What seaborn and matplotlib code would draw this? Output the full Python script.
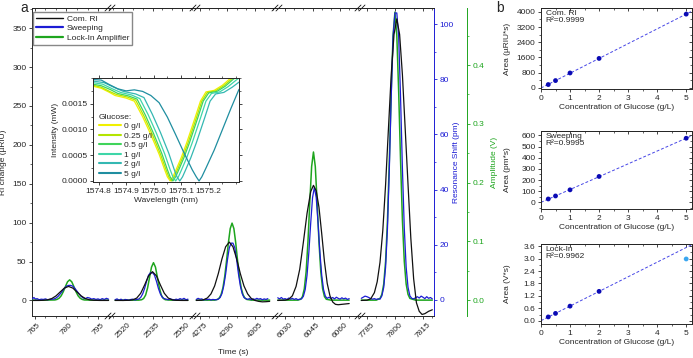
import numpy as np
import pandas as pd
import seaborn as sns
import matplotlib.pyplot as plt
from matplotlib.lines import Line2D
from matplotlib.ticker import MultipleLocator, FormatStrFormatter

# ---------------- data: panel a (time traces) ----------------
series_names = ['Com. RI', 'Sweeping', 'Lock-In Amplifier']

seg_ticks = [[765, 780, 795], [2520, 2535, 2550], [4275, 4290, 4305],
             [6030, 6045, 6060], [7785, 7800, 7815]]
seg_lims = [(763.6, 800.7), (2513.4, 2556.6), (4272.3, 4317.0),
            (6025.6, 6070.9), (7781.3, 7820.9)]

# commercial RI detector (uRIU)
ri_time = [764, 767, 769, 771, 773, 775, 777, 779, 781, 783, 785, 787, 789, 791, 793, 796, 800,
           2516, 2520, 2523, 2525, 2527, 2529, 2531, 2533, 2535, 2537, 2539, 2541, 2543, 2545, 2547, 2550, 2553,
           4273, 4276, 4277, 4279, 4281, 4283, 4285, 4287, 4289, 4291, 4293, 4295, 4297, 4299, 4301, 4303,
           4305, 4307, 4309, 4311, 4313,
           6026, 6030, 6032, 6034, 6036, 6038, 6040, 6042, 6044, 6045.5, 6047, 6048.5, 6050, 6051.5, 6053,
           6054.5, 6056, 6057.5, 6059, 6061, 6063, 6065,
           7782, 7785, 7787, 7789, 7790.5, 7792, 7793.5, 7795, 7796.5, 7798, 7799.5, 7801, 7802.5, 7804,
           7805.5, 7807, 7808.5, 7810, 7811.5, 7813, 7814.5, 7816, 7818, 7820]
ri_value = [0, 0, 0.2, 0.8, 2.4, 5.8, 10.9, 15.9, 18, 15.9, 10.9, 5.8, 2.4, 0.8, 0.2, 0, 0,
            0, 0, 0.15, 0.8, 3.1, 9.2, 19.9, 31.6, 37, 31.6, 19.9, 9.2, 3.1, 0.8, 0.15, 0, 0,
            0, 0.3, 1.0, 3.1, 8.4, 18.6, 34.5, 53.5, 69, 75, 69, 53.5, 34.5, 18.6, 8.4, 2.5,
            0, -1.2, -1.8, -1.6, -1.2,
            0, 0.3, 1.5, 6, 18, 40, 75, 112, 140, 148, 141, 120, 86, 50, 22,
            6, -2, -5, -5.5, -5, -4.5, -4,
            0, 0.3, 2, 10, 24, 49, 90, 149, 220, 290, 342, 362, 342, 290,
            220, 149, 80, 28, -3, -14, -18, -17, -14, -12]

# wavelength sweeping (pm)
sweep_time = [763.8, 764.5, 765.3, 766, 767, 768, 769, 770, 771, 772, 773, 774, 775, 776, 777, 778, 779,
              780, 781, 782, 783, 784, 785, 786, 787, 788, 789, 790, 791, 792, 793, 794, 795, 796, 797,
              798, 799, 800,
              2516, 2517, 2518, 2519, 2520, 2521, 2522, 2523, 2524, 2525, 2526, 2527, 2528, 2529, 2530,
              2531, 2532, 2533, 2534, 2535, 2536, 2537, 2538, 2539, 2540, 2541, 2542, 2543, 2544, 2545,
              2546, 2547, 2548, 2549, 2550, 2551, 2552, 2553,
              4273, 4274, 4275, 4276, 4277, 4278, 4279, 4280, 4281, 4282, 4283, 4284, 4285, 4286, 4287,
              4288, 4289, 4290, 4291, 4292, 4293, 4294, 4295, 4296, 4297, 4298, 4299, 4300, 4301, 4302,
              4303, 4304, 4305, 4306, 4307, 4308, 4309, 4310, 4311, 4312,
              6026, 6027, 6028, 6029, 6030, 6031, 6032, 6033, 6034, 6035, 6036, 6037, 6038, 6039, 6040,
              6041, 6042, 6043, 6044, 6045, 6046, 6047, 6048, 6049, 6050, 6051, 6052, 6053, 6054, 6055,
              6056, 6057, 6058, 6059, 6060, 6061, 6062, 6063, 6064, 6065,
              7782, 7783, 7784, 7785, 7786, 7787, 7788, 7789, 7790, 7791, 7792, 7793, 7794, 7795, 7796,
              7797, 7798, 7799, 7800, 7801, 7802, 7803, 7804, 7805, 7806, 7807, 7808, 7809, 7810, 7811,
              7812, 7813, 7814, 7815, 7816, 7817, 7818, 7819, 7820]
sweep_value = [0.4, 0.9, 0.3, 0.5, 0.1, 0.3, 0.2, 0.4, 0.1, 0.2, 0.3, 0.35, 0.7, 1.3, 2.2, 3.2, 4.25,
               5.0, 5.3, 5.3, 5.0, 4.2, 3.2, 2.2, 1.3, 0.7, 0.5, 0.9, 0.7, 0.3, 0.5, 0.2, 0.4, 0.1, 0.5,
               0.2, 0.6, 0.3,
               0.1, 0.4, -0.1, 0.3, -0.2, 0.2, 0.1, -0.1, 0.2, 0.3, 0.0, 0.2, 0.33, 0.93, 2.2,
               4.2, 6.8, 9.0, 9.9, 9.9, 9.0, 6.8, 4.2, 2.2, 0.93, 0.5, 0.3, 0.1, 0.4, 0.2,
               0.0, 0.3, 0.1, 0.5, 0.2, 0.6, 0.1, 0.3,
               0.2, 0.6, 0.3, 0.4, 0.0, 0.2, 0.1, 0.3, 0.0, 0.2, 0.1, 0.1, 0.3, 0.9, 2.35,
               5.2, 9.4, 14.6, 18.9, 20.6, 20.6, 18.9, 14.6, 9.4, 5.2, 2.35, 0.9, 0.5, 0.2, 0.5,
               0.1, 0.4, 0.2, 0.6, 0.3, 0.5, 0.1, 0.4, 0.2, 0.5,
               0.8, 0.4, 0.9, 0.3, 0.5, 0.2, 0.7, 0.3, 0.6, 0.2, 0.5, 0.1, 0.3, 0.4, 1.35,
               3.8, 9.0, 17.4, 27.9, 37.1, 40.8, 37.1, 27.9, 17.4, 9.0, 3.8, 1.35, 0.6, 1.0, 0.5,
               0.9, 0.4, 1.0, 0.6, 0.3, 0.8, 0.4, 0.7, 0.2, 0.5,
               0.6, 1.0, 1.4, 1.2, 0.9, 0.5, 0.3, 0.5, 0.2, 0.4, 0.3, 1.5, 4.6, 11.9, 26,
               47.6, 73.5, 95.4, 104, 104, 95.4, 73.5, 47.6, 26, 11.9, 4.6, 1.5, 0.6, 0.4, 0.8,
               1.2, 0.7, 1.4, 1.0, 0.5, 1.2, 0.6, 0.9, 0.4]

# lock-in amplifier (V)
lockin_time = [764, 770, 774.5, 775.5, 776.5, 777.5, 778.5, 779.5, 780.5, 781.5, 782.5, 783.5, 784.5,
               785.5, 786.5, 787.5, 788.5, 792, 800,
               2516, 2528, 2529.5, 2530.5, 2531.5, 2532.5, 2533.5, 2534.5, 2535.5, 2536.5, 2537.5,
               2538.5, 2539.5, 2540.5, 2541.5, 2544, 2553,
               4273, 4283, 4284.5, 4285.5, 4286.5, 4287.5, 4288.5, 4289.5, 4290.5, 4291.5, 4292.5,
               4293.5, 4294.5, 4295.5, 4296.5, 4297.5, 4298.5, 4299.5, 4300.5, 4303, 4313,
               6026, 6037, 6038.5, 6039.5, 6040.5, 6041.5, 6042.5, 6043.5, 6044.5, 6045.5, 6046.5,
               6047.5, 6048.5, 6049.5, 6050.5, 6051.5, 6052.5, 6055, 6065,
               7782, 7790, 7792, 7793, 7794, 7795, 7796, 7797, 7798, 7799, 7800, 7801, 7802, 7803,
               7804, 7805, 7806, 7807, 7808, 7811, 7820]
lockin_value = [0, 0, 0.0003, 0.0012, 0.0033, 0.0075, 0.0145, 0.0232, 0.0312, 0.0345, 0.0312, 0.0232,
                0.0145, 0.0075, 0.0033, 0.0012, 0.0003, 0, 0,
                0, 0, 0.0007, 0.0028, 0.0086, 0.0207, 0.0386, 0.0562, 0.0637, 0.0562, 0.0386,
                0.0207, 0.0086, 0.0028, 0.0007, 0, 0,
                0, 0, 0.0012, 0.0035, 0.0092, 0.0206, 0.0401, 0.0673, 0.0975, 0.1217, 0.131,
                0.1217, 0.0975, 0.0673, 0.0401, 0.0206, 0.0092, 0.0035, 0.0012, 0, 0,
                0, 0, 0.0015, 0.006, 0.0192, 0.0484, 0.0995, 0.1668, 0.2273, 0.252, 0.2273,
                0.1668, 0.0995, 0.0484, 0.0192, 0.006, 0.0015, 0, 0,
                0, 0, 0.0029, 0.0098, 0.0273, 0.0659, 0.1357, 0.2377, 0.3543, 0.4504, 0.49, 0.4504,
                0.3543, 0.2377, 0.1357, 0.0659, 0.0273, 0.0098, 0.0029, 0, 0]

# ---------------- data: inset (transmission spectra) ----------------
glucose_labels = ['0 g/l', '0.25 g/l', '0.5 g/l', '1 g/l', '2 g/l', '5 g/l']
glucose_colors = ['#f0f000', '#b4e400', '#3fd45a', '#3ed6a8', '#34b8b2', '#1f8ea0']
wl_0 = [1574.78, 1574.81, 1574.84, 1574.86, 1574.90, 1574.93, 1574.96, 1574.99, 1575.02, 1575.04,
        1575.05, 1575.06, 1575.07, 1575.08, 1575.10, 1575.12, 1575.15, 1575.17, 1575.19, 1575.22,
        1575.25, 1575.28, 1575.31]
int_0 = [0.00184, 0.00180, 0.00172, 0.00166, 0.00161, 0.00155, 0.00125, 0.00090, 0.00052, 0.00022,
         0.00008, 0.0, 0.00008, 0.00020, 0.00045, 0.00074, 0.00122, 0.00155, 0.00173, 0.00176,
         0.00186, 0.00200, 0.00212]
wl_025 = [1574.78, 1574.81, 1574.84, 1574.865, 1574.905, 1574.935, 1574.965, 1574.995, 1575.025,
          1575.045, 1575.055, 1575.065, 1575.075, 1575.085, 1575.105, 1575.125, 1575.155, 1575.175,
          1575.195, 1575.225, 1575.255, 1575.285, 1575.31]
int_025 = [0.00186, 0.00182, 0.00174, 0.00168, 0.00163, 0.00157, 0.00126, 0.00091, 0.00052, 0.00022,
           0.00008, 0.0, 0.00008, 0.00020, 0.00045, 0.00074, 0.00122, 0.00155, 0.00172, 0.00175,
           0.00185, 0.00199, 0.00208]
wl_05 = [1574.78, 1574.81, 1574.845, 1574.87, 1574.91, 1574.94, 1574.97, 1575.00, 1575.03, 1575.05,
         1575.06, 1575.07, 1575.08, 1575.09, 1575.11, 1575.13, 1575.16, 1575.18, 1575.20, 1575.23,
         1575.26, 1575.29, 1575.31]
int_05 = [0.00188, 0.00185, 0.00177, 0.00170, 0.00165, 0.00159, 0.00128, 0.00092, 0.00053, 0.00022,
          0.00008, 0.0, 0.00008, 0.00020, 0.00045, 0.00074, 0.00122, 0.00155, 0.00171, 0.00174,
          0.00184, 0.00198, 0.00205]
wl_1 = [1574.78, 1574.815, 1574.85, 1574.88, 1574.92, 1574.95, 1574.98, 1575.01, 1575.04, 1575.06,
        1575.07, 1575.08, 1575.09, 1575.10, 1575.12, 1575.14, 1575.17, 1575.19, 1575.21, 1575.24,
        1575.27, 1575.30, 1575.31]
int_1 = [0.00191, 0.00188, 0.00179, 0.00172, 0.00167, 0.00160, 0.00129, 0.00093, 0.00053, 0.00022,
         0.00008, 0.0, 0.00008, 0.00020, 0.00045, 0.00074, 0.00122, 0.00155, 0.00170, 0.00173,
         0.00183, 0.00196, 0.00200]
wl_2 = [1574.78, 1574.82, 1574.86, 1574.89, 1574.935, 1574.965, 1574.995, 1575.025, 1575.055,
        1575.075, 1575.085, 1575.095, 1575.105, 1575.115, 1575.135, 1575.155, 1575.185, 1575.205,
        1575.225, 1575.255, 1575.285, 1575.31]
int_2 = [0.00194, 0.00191, 0.00181, 0.00174, 0.00169, 0.00162, 0.00130, 0.00094, 0.00054, 0.00022,
         0.00008, 0.0, 0.00008, 0.00020, 0.00045, 0.00074, 0.00122, 0.00155, 0.00169, 0.00172,
         0.00182, 0.00192]
wl_5 = [1574.78, 1574.81, 1574.84, 1574.87, 1574.90, 1574.93, 1574.96, 1574.99, 1575.02, 1575.05,
        1575.08, 1575.11, 1575.14, 1575.155, 1575.165, 1575.175, 1575.19, 1575.22, 1575.25, 1575.28,
        1575.31]
int_5 = [0.00197, 0.00196, 0.00187, 0.00179, 0.00175, 0.00177, 0.00174, 0.00166, 0.00152, 0.00124,
         0.00090, 0.00055, 0.00022, 0.00008, 0.0, 0.00008, 0.00025, 0.00060, 0.00100, 0.00140,
         0.00178]

# ---------------- data: panel b (calibration) ----------------
conc = [0.25, 0.5, 1, 2, 5]
area_ri = [174, 383, 783, 1548, 3878]
area_sweep = [30, 57, 112, 232, 575]
area_lockin = [0.19, 0.36, 0.71, 1.42, 2.98]
lockin_in_fit = [True, True, True, True, False]

# ---------------- style ----------------
sns.set_style("ticks")
plt.rcParams['font.family'] = ['Liberation Sans', 'DejaVu Sans']
plt.rcParams.update({
    'font.size': 6, 'axes.linewidth': 0.7,
    'xtick.major.size': 2.5, 'ytick.major.size': 2.5,
    'xtick.minor.size': 1.5, 'ytick.minor.size': 1.5,
    'xtick.major.width': 0.6, 'ytick.major.width': 0.6,
    'xtick.minor.width': 0.5, 'ytick.minor.width': 0.5,
    'xtick.major.pad': 1.5, 'ytick.major.pad': 1.5,
    'xtick.labelsize': 6, 'ytick.labelsize': 6,
    'axes.labelsize': 6, 'axes.labelpad': 2,
})

BLACK = '#111111'
BLUE = '#1c1cd4'
GREEN = '#1ea51e'
W, H = 693, 358


def box(x0, y0, x1, y1):
    return [x0 / W, 1 - y1 / H, (x1 - x0) / W, (y1 - y0) / H]


fig = plt.figure(figsize=(6.93, 3.58), dpi=100)

# ---------------- panel a: background axes carrying the y scales ----------------
RI_LIM = (-20, 376)
PM_LIM = (-5.8, 105.8)
V_LIM = (-0.027, 0.497)

ax = fig.add_axes(box(32, 8, 434, 316))
ax.set_xticks([])
ax.set_ylim(*RI_LIM)
ax.yaxis.set_minor_locator(MultipleLocator(25))
ax.set_yticks(range(0, 351, 50))
ax.set_ylabel('RI change (µRIU)')
ax.yaxis.set_label_coords(-0.062, 0.5)
for side in ('top', 'bottom', 'right'):
    ax.spines[side].set_visible(False)

axb = ax.twinx()
axb.set_ylim(*PM_LIM)
axb.set_yticks(range(0, 101, 20))
axb.yaxis.set_minor_locator(MultipleLocator(10))
axb.spines['right'].set_color(BLUE)
axb.tick_params(axis='y', which='both', colors=BLUE)
axb.set_ylabel('Resonance Shift (pm)', color=BLUE)
axb.yaxis.set_label_coords(1.048, 0.5)
for side in ('top', 'bottom', 'left'):
    axb.spines[side].set_visible(False)

axg = ax.twinx()
axg.set_ylim(*V_LIM)
axg.set_yticks([0, 0.1, 0.2, 0.3, 0.4])
axg.yaxis.set_major_formatter(FormatStrFormatter('%.1f'))
axg.yaxis.set_minor_locator(MultipleLocator(0.05))
axg.spines['right'].set_position(('outward', 33 * 72 / 100))   # 33 px
axg.spines['right'].set_color(GREEN)
axg.tick_params(axis='y', which='both', colors=GREEN)
axg.set_ylabel('Amplitude (V)', color=GREEN)
axg.yaxis.set_label_coords(1.143, 0.5)
for side in ('top', 'bottom', 'left'):
    axg.spines[side].set_visible(False)

# ---------------- panel a: broken time axis segments ----------------
ri = pd.DataFrame({'t': ri_time, 'v': ri_value})
sw = pd.DataFrame({'t': sweep_time, 'v': sweep_value})
li = pd.DataFrame({'t': lockin_time, 'v': lockin_value})

seg_edges = [32, 110, 195, 277, 360, 434]
for i, (lo, hi) in enumerate(seg_lims):
    s = fig.add_axes(box(seg_edges[i], 8, seg_edges[i + 1], 316))
    s.set_facecolor('none')
    sb = s.twinx()
    sg = s.twinx()
    s.set_zorder(3)
    sb.set_zorder(2)
    sg.set_zorder(1)

    d = li[(li.t >= lo) & (li.t <= hi)]
    sns.lineplot(data=d, x='t', y='v', ax=sg, color=GREEN, lw=1.1,
                 estimator=None, sort=False, legend=False)
    d = sw[(sw.t >= lo) & (sw.t <= hi)]
    sns.lineplot(data=d, x='t', y='v', ax=sb, color=BLUE, lw=0.9,
                 estimator=None, sort=False, legend=False)
    d = ri[(ri.t >= lo) & (ri.t <= hi)]
    sns.lineplot(data=d, x='t', y='v', ax=s, color=BLACK, lw=0.9,
                 estimator=None, sort=False, legend=False)

    for a, lim in ((s, RI_LIM), (sb, PM_LIM), (sg, V_LIM)):
        a.set_xlim(lo, hi)
        a.set_ylim(*lim)
    sb.set_axis_off()
    sg.set_axis_off()

    s.set_xlabel('')
    s.set_ylabel('')
    s.set_yticks([])
    s.spines['left'].set_visible(False)
    s.spines['right'].set_visible(False)
    s.set_xticks(seg_ticks[i])
    s.xaxis.set_minor_locator(MultipleLocator(5))
    s.tick_params(axis='x', labelrotation=45)
    top = s.secondary_xaxis('top')
    top.set_xticks(seg_ticks[i])
    top.xaxis.set_minor_locator(MultipleLocator(5))
    top.tick_params(which='both', direction='in', labeltop=False)

    if i > 0:
        w = seg_edges[i + 1] - seg_edges[i]
        dx, dy = 3.0 / w, 3.0 / 308
        for y in (0, 1):
            for off in (-2.0 / w, 2.0 / w):
                s.plot([off - dx, off + dx], [y - dy, y + dy], transform=s.transAxes,
                       color=BLACK, lw=0.6, clip_on=False)

fig.text(233 / W, 1 - 352 / H, 'Time (s)', ha='center', va='center', fontsize=6)

handles = [Line2D([], [], color=BLACK, lw=1.0),
           Line2D([], [], color=BLUE, lw=1.6),
           Line2D([], [], color=GREEN, lw=1.6)]
fig.legend(handles, series_names, loc='upper left', bbox_to_anchor=(33 / W, 1 - 12 / H),
           fontsize=6, frameon=True, fancybox=False, edgecolor='#888888', framealpha=1,
           handlelength=3.2, borderpad=0.35, labelspacing=0.2, handletextpad=0.5,
           borderaxespad=0)

# ---------------- inset ----------------
ins = fig.add_axes(box(93, 78, 239, 182))
ins.set_zorder(6)
ins.set_facecolor('white')
spectra = [(wl_0, int_0), (wl_025, int_025), (wl_05, int_05),
           (wl_1, int_1), (wl_2, int_2), (wl_5, int_5)]
for (wl, it), c, lab in zip(spectra, glucose_colors, glucose_labels):
    sns.lineplot(x=wl, y=it, ax=ins, color=c, lw=0.9, label=lab,
                 estimator=None, sort=False)
ins.set_xlim(1574.78, 1575.31)
ins.set_ylim(-0.00002, 0.002)
ins.set_xticks([1574.8, 1574.9, 1575.0, 1575.1, 1575.2])
ins.xaxis.set_major_formatter(FormatStrFormatter('%.1f'))
ins.xaxis.set_minor_locator(MultipleLocator(0.05))
ins.set_yticks([0, 0.0005, 0.0010, 0.0015])
ins.yaxis.set_major_formatter(FormatStrFormatter('%.4f'))
ins.yaxis.set_minor_locator(MultipleLocator(0.00025))
ins.tick_params(which='both', top=True, right=True)
ins.set_xlabel('Wavelength (nm)')
ins.set_ylabel('Intensity (mW)')
leg = ins.legend(loc='lower left', bbox_to_anchor=(-0.01, -0.03), title='Glucose:',
                 frameon=False, fontsize=6, title_fontsize=6, handlelength=2.6,
                 labelspacing=0.2, handletextpad=0.4, alignment='left')
for h in leg.legend_handles:
    h.set_linewidth(1.5)

# ---------------- panel b ----------------
FIT = '#4646e6'
DOT = '#0a0ab4'
DOT_OUT = '#3aa6f0'


def calib(rect, y, ylim, major, minor, fmt, ylabel, name, r2, used=None):
    a = fig.add_axes(rect)
    a.set_xlim(0, 5.2)
    a.set_ylim(*ylim)
    n = len(conc) if used is None else sum(used)
    sns.regplot(x=conc[:n], y=y[:n], ax=a, ci=None, scatter=False, truncate=False,
                line_kws=dict(color=FIT, lw=0.7, ls=(0, (3, 2))))
    df = pd.DataFrame({'c': conc, 'a': y, 'fit': used if used is not None else [True] * len(conc)})
    sns.scatterplot(data=df, x='c', y='a', hue='fit', palette={True: DOT, False: DOT_OUT},
                    ax=a, s=12, edgecolor='none', legend=False, zorder=3)
    a.set_xlim(0, 5.2)
    a.set_xticks(range(0, 6))
    a.xaxis.set_minor_locator(MultipleLocator(0.5))
    a.yaxis.set_major_locator(MultipleLocator(major))
    a.yaxis.set_minor_locator(MultipleLocator(minor))
    a.yaxis.set_major_formatter(FormatStrFormatter(fmt))
    a.set_ylim(*ylim)
    a.set_xlabel('Concentration of Glucose (g/L)')
    a.set_ylabel(ylabel)
    a.yaxis.set_label_coords(-0.2, 0.5)
    sx = a.secondary_xaxis('top')
    sx.xaxis.set_minor_locator(MultipleLocator(0.5))
    sx.tick_params(which='both', direction='in', labeltop=False)
    sy = a.secondary_yaxis('right')
    sy.yaxis.set_major_locator(MultipleLocator(major))
    sy.yaxis.set_minor_locator(MultipleLocator(minor))
    sy.tick_params(which='both', direction='in', labelright=False)
    a.text(0.03, 0.97, f'{name}\nR²={r2}', transform=a.transAxes, ha='left', va='top',
           fontsize=6, linespacing=1.0)
    return a


calib(box(541, 8, 692, 89), area_ri, (-60, 4200), 800, 400, '%d',
      'Area (µRIU*s)', 'Com. RI', '0.9999')
calib(box(541, 131, 692, 209), area_sweep, (-60, 640), 100, 50, '%d',
      'Area (pm*s)', 'Sweeping', '0.9995')
calib(box(541, 244, 692, 324), area_lockin, (-0.15, 3.7), 0.6, 0.3, '%.1f',
      'Area (V*s)', 'Lock-In', '0.9962', used=lockin_in_fit)

fig.text(20 / W, 1 - 1 / H, 'a', fontsize=10, va='top', ha='left')
fig.text(496 / W, 1 - 1 / H, 'b', fontsize=10, va='top', ha='left')

fig.savefig('out.png', dpi=100)
